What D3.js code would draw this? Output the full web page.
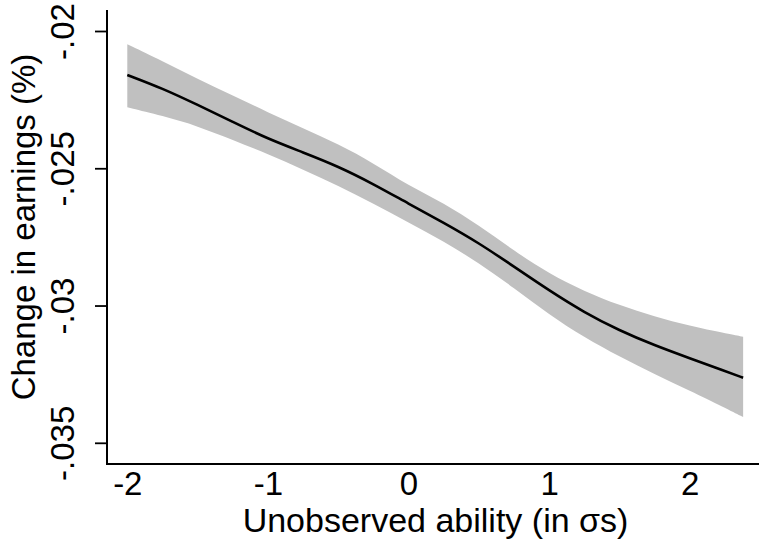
<!DOCTYPE html>
<html>
<head>
<meta charset="utf-8">
<script src="https://cdn.jsdelivr.net/npm/d3@7"></script>
<style>
  html, body { margin: 0; padding: 0; background: #fff; }
  svg { display: block; }
  text { font-family: "Liberation Sans", Arial, sans-serif; fill: #000; }
</style>
</head>
<body>
<svg id="chart" width="759" height="548"></svg>
<script>
// ---- data ----
const ability = [-2, -1.75, -1.5, -1.25, -1, -0.75, -0.5, -0.25, 0, 0.25, 0.5, 0.75, 1, 1.25, 1.5, 1.75, 2, 2.25, 2.38];
const effect  = [-0.02160, -0.02209, -0.02269, -0.02331, -0.02393, -0.02442, -0.02493, -0.02557, -0.02629, -0.02698, -0.02772, -0.02858, -0.02945, -0.03025, -0.03091, -0.03145, -0.03192, -0.03239, -0.03263];
const ciUpper = [-0.02048, -0.02110, -0.02174, -0.02235, -0.02296, -0.02354, -0.02412, -0.02481, -0.02563, -0.02626, -0.02708, -0.02800, -0.02884, -0.02948, -0.02999, -0.03040, -0.03074, -0.03101, -0.03114];
const ciLower = [-0.02278, -0.02309, -0.02346, -0.02397, -0.02448, -0.02505, -0.02564, -0.02629, -0.02698, -0.02766, -0.02845, -0.02936, -0.03033, -0.03116, -0.03186, -0.03250, -0.03310, -0.03372, -0.03406];

const xTicks = [-2, -1, 0, 1, 2];
const xTickLabels = ["-2", "-1", "0", "1", "2"];
const yTicks = [-0.02, -0.025, -0.03, -0.035];
const yTickLabels = ["-.02", "-.025", "-.03", "-.035"];
const xTitle = "Unobserved ability (in σs)";
const yTitle = "Change in earnings (%)";

// ---- layout ----
const frameLeft = 107, frameRight = 759, frameTop = 10, frameBottom = 464;
const tickFont = 33, xTitleFont = 34, yTitleFont = 33;

const svg = d3.select("#chart");

const x = d3.scaleLinear().domain([-2, 2]).range([127.3, 689.7]);
const y = d3.scaleLinear().domain([-0.02, -0.035]).range([31, 442.8]);

const data = ability.map((a, i) => ({ a, m: effect[i], hi: ciUpper[i], lo: ciLower[i] }));

// confidence band
svg.append("path")
  .datum(data)
  .attr("fill", "#c0c0c0")
  .attr("stroke", "none")
  .attr("d", d3.area()
    .x(d => x(d.a))
    .y0(d => y(d.lo))
    .y1(d => y(d.hi))
    .curve(d3.curveBasis));

// estimate line
svg.append("path")
  .datum(data)
  .attr("fill", "none")
  .attr("stroke", "#000")
  .attr("stroke-width", 2.6)
  .attr("d", d3.line()
    .x(d => x(d.a))
    .y(d => y(d.m))
    .curve(d3.curveBasis));

// y axis
const yAxis = svg.append("g")
  .attr("transform", `translate(${frameLeft},0)`)
  .call(d3.axisLeft(y).tickValues(yTicks)
    .tickFormat((d, i) => yTickLabels[i]).tickSize(12).tickSizeOuter(0));
yAxis.select(".domain").remove();
yAxis.selectAll(".tick line").attr("stroke", "#000").attr("stroke-width", 1.8);
yAxis.selectAll(".tick text")
  .attr("x", null).attr("dy", null)
  .attr("text-anchor", "middle")
  .attr("transform", `translate(${74 - frameLeft},0) rotate(-90)`)
  .style("font-size", tickFont + "px");
yAxis.attr("font-family", null).attr("font-size", null);

// x axis
const xAxis = svg.append("g")
  .attr("transform", `translate(0,${frameBottom})`)
  .call(d3.axisBottom(x).tickValues(xTicks)
    .tickFormat((d, i) => xTickLabels[i]).tickSize(0).tickSizeOuter(0));
xAxis.select(".domain").remove();
xAxis.selectAll(".tick line").remove();
xAxis.selectAll(".tick text")
  .attr("y", 495 - frameBottom).attr("dy", null)
  .attr("text-anchor", "middle")
  .style("font-size", tickFont + "px");
xAxis.attr("font-family", null).attr("font-size", null);

// frame lines
svg.append("line")
  .attr("x1", frameLeft).attr("x2", frameLeft)
  .attr("y1", frameTop).attr("y2", frameBottom + 1)
  .attr("stroke", "#000").attr("stroke-width", 2);
svg.append("line")
  .attr("x1", frameLeft - 1).attr("x2", frameRight)
  .attr("y1", frameBottom).attr("y2", frameBottom)
  .attr("stroke", "#000").attr("stroke-width", 2);

// titles
svg.append("text")
  .attr("x", 435.5).attr("y", 532)
  .attr("text-anchor", "middle")
  .style("font-size", xTitleFont + "px")
  .text(xTitle);

svg.append("text")
  .attr("transform", "translate(35,227) rotate(-90)")
  .attr("text-anchor", "middle")
  .style("font-size", yTitleFont + "px")
  .text(yTitle);
</script>
</body>
</html>
